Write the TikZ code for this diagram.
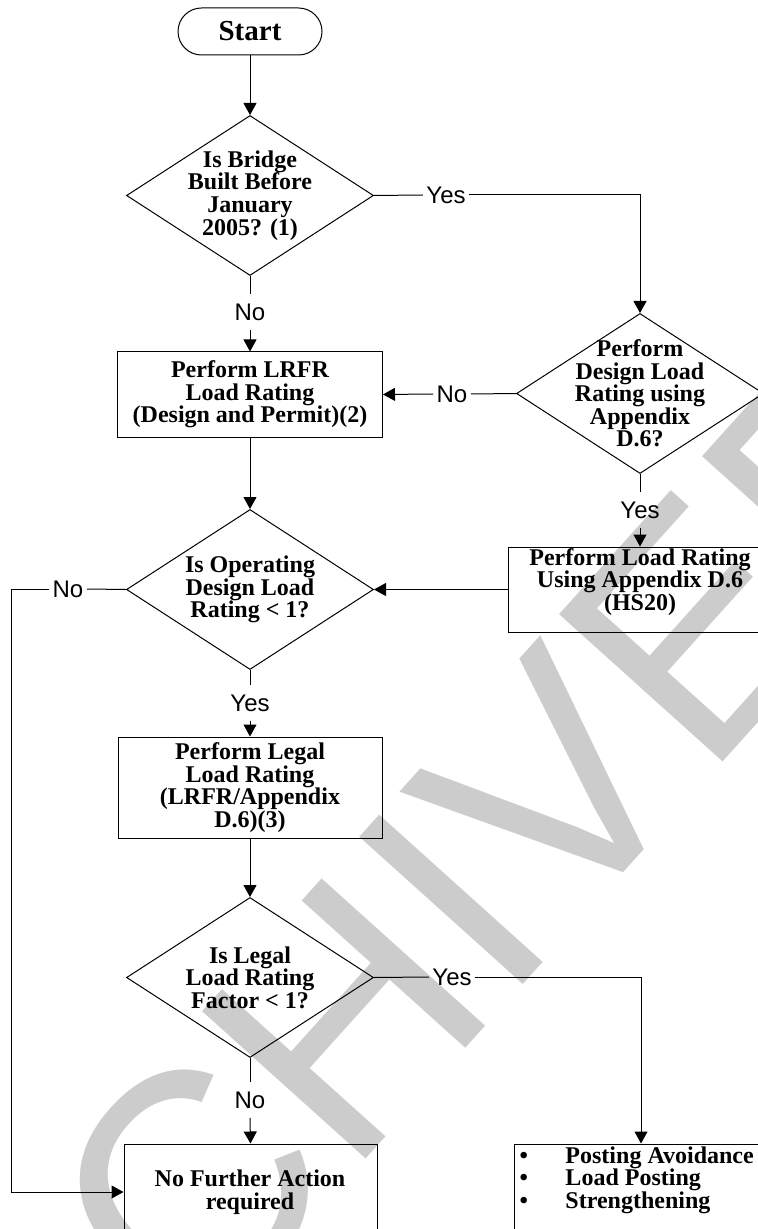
\documentclass[tikz,border=0pt]{standalone}
\usepackage{fontspec}
\setmainfont{Liberation Serif}
\newfontfamily\arialfont{Liberation Sans}
\usetikzlibrary{shapes.geometric,arrows.meta}

\tikzset{
  flow/.style={-{Triangle[length=6pt,width=6.5pt]}},
  startbox/.style={draw, line width=0.5pt, rounded corners=11.75pt, minimum width=72pt,
    minimum height=23.5pt, inner sep=0pt, font=\bfseries\fontsize{14.5}{16}\selectfont},
  decision/.style={draw, line width=0.5pt, diamond, minimum width=123.5pt,
    minimum height=80pt, inner sep=0pt},
  process/.style={draw, line width=0.5pt, inner sep=0pt},
  boxtext/.style={align=center, inner sep=0pt, font=\bfseries\fontsize{12}{11.3}\selectfont},
  answer/.style={inner xsep=1.5pt, inner ysep=4.5pt, font=\arialfont\fontsize{12}{14}\selectfont},
  archived/.style={inner sep=0pt, text=black!20, font=\arialfont\fontsize{160}{160}\selectfont},
}

\begin{document}
\begin{tikzpicture}[x=0.5pt,y=-0.5pt,line width=0.5pt]
\useasboundingbox (0,0) rectangle (758,1229);
% Watermark behind the chart
\node[archived, rotate=48] (stamp) at (368,992) {ARCHIVED};
% Start and decisions
\node[startbox] (start) at (250,31.5) {Start};
\node[decision] (built) at (250,195.5) {};
\node[boxtext] (builttxt) at (built) {Is Bridge\\Built Before\\January\\2005? (1)};
\node[decision] (appd) at (640,393.5) {};
\node[boxtext] (appdtxt) at (appd) {Perform\\Design Load\\Rating using\\Appendix\\D.6?};
\node[decision] (oper) at (250,589.5) {};
\node[boxtext] (opertxt) at (oper) {Is Operating\\Design Load\\Rating < 1?};
\node[decision] (legal) at (250,977.5) {};
\node[boxtext] (legaltxt) at (legal) {Is Legal\\Load Rating\\Factor < 1?};
% Process boxes
\node[process, minimum width=132.5pt, minimum height=42.5pt] (lrfr) at (250,394.5) {};
\node[boxtext] (lrfrtxt) at (lrfr) {Perform LRFR\\Load Rating\\(Design and Permit)(2)};
\node[process, minimum width=132pt, minimum height=42.5pt] (hs) at (640,589.5) {};
\node[boxtext] (hstxt) at (640,582) {Perform Load Rating\\Using Appendix D.6\\(HS20)};
\node[process, minimum width=132pt, minimum height=50.5pt] (legalrate) at (250,787.5) {};
\node[boxtext] (legalratetxt) at (legalrate) {Perform Legal\\Load Rating\\(LRFR/Appendix\\D.6)(3)};
\node[process, minimum width=126.5pt, minimum height=50pt] (done) at (250.5,1194) {};
\node[boxtext] (donetxt) at (250,1192) {No Further Action\\required};
\node[process, minimum width=127pt, minimum height=50pt] (post) at (641,1194) {};
\node[boxtext, align=left, anchor=north west] (posttxt) at (519,1146)
  {\makebox[23pt][l]{\textbullet}Posting Avoidance\\
   \makebox[23pt][l]{\textbullet}Load Posting\\
   \makebox[23pt][l]{\textbullet}Strengthening};
% Answer labels
\node[answer] (yes1) at (446,195) {Yes};
\node[answer] (no1) at (250,312) {No};
\node[answer] (no2) at (452,394) {No};
\node[answer] (yes2) at (640,510) {Yes};
\node[answer] (no3) at (68,589) {No};
\node[answer] (yes3) at (250,703) {Yes};
\node[answer] (yes4) at (452,977) {Yes};
\node[answer] (no4) at (250,1100) {No};
\coordinate (turn) at (11,1192);
% Connectors
\draw[flow] (start.south) -- (built.north);
\draw (built.east) -- (yes1.west);
\draw[flow] (yes1.east) -| (appd.north);
\draw (built.south) -- (no1.north);
\draw[flow] (no1.south) -- (lrfr.north);
\draw (appd.west) -- (no2.east);
\draw[flow] (no2.west) -- (lrfr.east);
\draw (appd.south) -- (yes2.north);
\draw[flow] (yes2.south) -- (hs.north);
\draw[flow] (hs.west) -- (oper.east);
\draw[flow] (lrfr.south) -- (oper.north);
\draw (oper.west) -- (no3.east);
\draw (no3.west) -| (turn);
\draw[flow] (turn) -- (turn -| done.west);
\draw (oper.south) -- (yes3.north);
\draw[flow] (yes3.south) -- (legalrate.north);
\draw[flow] (legalrate.south) -- (legal.north);
\draw (legal.east) -- (yes4.west);
\draw[flow] (yes4.east) -| (post.north);
\draw (legal.south) -- (no4.north);
\draw[flow] (no4.south) -- (done.north);
\end{tikzpicture}
\end{document}
